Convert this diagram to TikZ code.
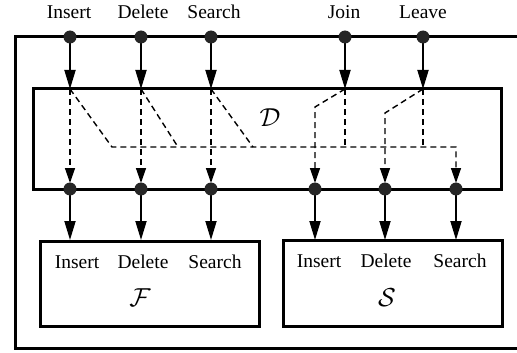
\documentclass[tikz,border=0pt]{standalone}
\usepackage{fix-cm}
\usepackage{fontspec}
\setmainfont{Liberation Serif}
\usetikzlibrary{arrows.meta}
\begin{document}
\begin{tikzpicture}[x=1pt,y=-1pt,
  frame/.style={line width=3pt},
  port/.style={circle,fill=black!85,inner sep=0pt,minimum size=13pt},
  flow/.style={line width=1.8pt,-{Triangle[length=19pt,width=11pt]}},
  relay/.style={line width=1.4pt,dash pattern=on 6pt off 4pt},
  relayarrow/.style={relay,-{Triangle[length=15pt,width=10pt]}},
  lbl/.style={font=\fontsize{19.5}{22}\selectfont,inner sep=0pt},
  sym/.style={font=\fontsize{26}{30}\selectfont,inner sep=0pt}]
\useasboundingbox (0,0) rectangle (517,353);

% outer frame, open to the right
\draw[frame] (517,37) -- (15,37) -- (15,348) -- (517,348);

% dispatcher box D and the two service boxes
\draw[frame] (33,89) rectangle (501,189);
\draw[frame] (40,241) rectangle (259,326);
\draw[frame] (283,240) rectangle (502,326);

% top ports
\foreach \n/\x in {tI/70,tD/141,tS/211,tJ/345,tL/423}{
  \coordinate (\n) at (\x,37);
  \coordinate (\n d) at (\x,89);
}
% bottom ports
\foreach \n/\x in {bI/70,bD/141,bS/211,cI/315,cD/385,cS/456}{
  \coordinate (\n) at (\x,189);
  \coordinate (\n f) at (\x,240);
}

% top labels
\node[lbl,anchor=base] at (69,19) {Insert};
\node[lbl,anchor=base] at (143,19) {Delete};
\node[lbl,anchor=base] at (214,19) {Search};
\node[lbl,anchor=base] at (344,19) {Join};
\node[lbl,anchor=base] at (423,19) {Leave};

% incoming arrows
\foreach \n in {tI,tD,tS,tJ,tL}{
  \draw[flow] (\n) -- (\n d);
}
% outgoing arrows
\foreach \n in {bI,bD,bS,cI,cD,cS}{
  \draw[flow] (\n) -- (\n f);
}

% routing inside D
\coordinate (hI) at (112,147);
\coordinate (hD) at (178,147);
\coordinate (hS) at (253,147);
\coordinate (hJ) at (345,147);
\coordinate (hL) at (423,147);
\coordinate (hE) at (456,147);
\coordinate (kJ) at (315,107);
\coordinate (kL) at (385,113);
\coordinate (aI) at (70,183);
\coordinate (aD) at (141,183);
\coordinate (aS) at (211,183);
\coordinate (aJ) at (315,183);
\coordinate (aL) at (385,183);
\coordinate (aE) at (456,183);

\draw[relayarrow] (tId) -- (aI);
\draw[relayarrow] (tDd) -- (aD);
\draw[relayarrow] (tSd) -- (aS);
\draw[relayarrow] (tId) -- (hI) -- (hE) -- (aE);
\draw[relay] (tDd) -- (hD);
\draw[relay] (tSd) -- (hS);
\draw[relay] (tJd) -- (hJ);
\draw[relay] (tLd) -- (hL);
\draw[relayarrow] (tJd) -- (kJ) -- (aJ);
\draw[relayarrow] (tLd) -- (kL) -- (aL);

% port dots
\foreach \n in {tI,tD,tS,tJ,tL,bI,bD,bS,cI,cD,cS}{
  \node[port] at (\n) {};
}

% box labels
\node[sym] (Dn) at (270,118) {$\mathcal{D}$};
\foreach \t/\x in {Insert/77,Delete/143,Search/215}{
  \node[lbl,anchor=base] at (\x,268) {\t};
}
\foreach \t/\x in {Insert/319,Delete/386,Search/460}{
  \node[lbl,anchor=base] at (\x,267) {\t};
}
\node[sym] (Fn) at (140,298) {$\mathcal{F}$};
\node[sym] (Sn) at (387,298) {$\mathcal{S}$};
\end{tikzpicture}
\end{document}
